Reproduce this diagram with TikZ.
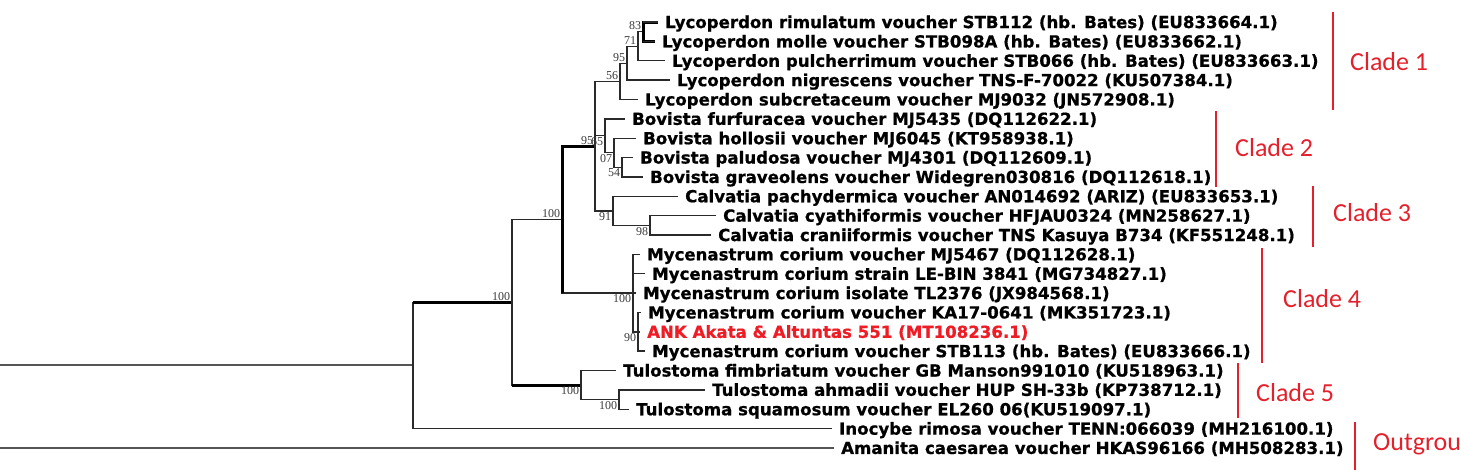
\documentclass[tikz,border=0pt]{standalone}
\usepackage{fontspec}
\setmainfont{DejaVu Sans}[BoldFeatures={FakeBold=0.8}]
\newfontfamily\bsfont{Liberation Serif}
\newfontfamily\cladefont{Carlito}
\definecolor{branch}{HTML}{2A2A2A}
\definecolor{rootgray}{HTML}{555555}
\definecolor{cladered}{HTML}{E3202B}
\definecolor{ankred}{HTML}{EE1C25}
\definecolor{bsgray}{HTML}{3A3A3A}
\tikzset{
  taxon/.style={anchor=west, inner xsep=7pt, inner ysep=0pt, text height=12.1pt, text depth=0pt,
    font=\bfseries\fontsize{16.6}{18}\selectfont, text=black},
  br/.style={draw=branch, line width=1.4pt},
  rootbr/.style={draw=rootgray, line width=2pt},
  thickbr/.style={draw=black, line width=3pt},
  bs/.style={font=\bsfont\fontsize{12}{13}\selectfont, text=bsgray, inner sep=0.6pt},
  bsabove/.style={bs, anchor=south east},
  bsbelow/.style={bs, anchor=north east},
  cladebar/.style={draw=cladered, line width=2.6pt},
  cladelbl/.style={anchor=west, text=cladered, font=\cladefont\fontsize{26}{28}\selectfont,
    inner sep=0pt, text height=16.5pt, text depth=0pt}
}
\begin{document}
\begin{tikzpicture}[x=1pt,y=-1pt]
\useasboundingbox (0,0) rectangle (1460,469);
% ---- taxa
\node[taxon] (t1) at (658,22.0) {Lycoperdon rimulatum voucher STB112 (hb. Bates) (EU833664.1)};
\node[taxon] (t2) at (655,41.4) {Lycoperdon molle voucher STB098A (hb. Bates) (EU833662.1)};
\node[taxon] (t3) at (665,60.7) {Lycoperdon pulcherrimum voucher STB066 (hb. Bates) (EU833663.1)};
\node[taxon] (t4) at (670,80.1) {Lycoperdon nigrescens voucher TNS-F-70022 (KU507384.1)};
\node[taxon] (t5) at (638,99.4) {Lycoperdon subcretaceum voucher MJ9032 (JN572908.1)};
\node[taxon] (t6) at (625,118.8) {Bovista furfuracea voucher MJ5435 (DQ112622.1)};
\node[taxon] (t7) at (636,138.2) {Bovista hollosii voucher MJ6045 (KT958938.1)};
\node[taxon] (t8) at (633,157.5) {Bovista paludosa voucher MJ4301 (DQ112609.1)};
\node[taxon] (t9) at (643,176.9) {Bovista graveolens voucher Widegren030816 (DQ112618.1)};
\node[taxon] (t10) at (678,196.2) {Calvatia pachydermica voucher AN014692 (ARIZ) (EU833653.1)};
\node[taxon] (t11) at (716,215.6) {Calvatia cyathiformis voucher HFJAU0324 (MN258627.1)};
\node[taxon] (t12) at (711,235.0) {Calvatia craniiformis voucher TNS Kasuya B734 (KF551248.1)};
\node[taxon] (t13) at (640,254.3) {Mycenastrum corium voucher MJ5467 (DQ112628.1)};
\node[taxon] (t14) at (645,273.7) {Mycenastrum corium strain LE-BIN 3841 (MG734827.1)};
\node[taxon] (t15) at (636,293.0) {Mycenastrum corium isolate TL2376 (JX984568.1)};
\node[taxon] (t16) at (641,312.4) {Mycenastrum corium voucher KA17-0641 (MK351723.1)};
\node[taxon,text=ankred] (t17) at (640,331.8) {ANK Akata \& Altuntas 551 (MT108236.1)};
\node[taxon] (t18) at (645,351.1) {Mycenastrum corium voucher STB113 (hb. Bates) (EU833666.1)};
\node[taxon] (t19) at (616,370.5) {Tulostoma fimbriatum voucher GB Manson991010 (KU518963.1)};
\node[taxon] (t20) at (705,389.8) {Tulostoma ahmadii voucher HUP SH-33b (KP738712.1)};
\node[taxon] (t21) at (629,409.2) {Tulostoma squamosum voucher EL260 06(KU519097.1)};
\node[taxon] (t22) at (832,428.6) {Inocybe rimosa voucher TENN:066039 (MH216100.1)};
\node[taxon] (t23) at (834,447.9) {Amanita caesarea voucher HKAS96166 (MH508283.1)};
% ---- internal nodes
\coordinate (R) at (-8,406.7);
\coordinate (Z) at (413,365.4);
\coordinate (Y) at (512,302.3);
\coordinate (X) at (562,219.5);
\coordinate (A) at (595,146);
\coordinate (L1) at (620,81.3);
\coordinate (L2) at (627,63.2);
\coordinate (L3) at (638,46.2);
\coordinate (L4) at (643,31.7);
\coordinate (B1) at (605,135.7);
\coordinate (B2) at (614,152.7);
\coordinate (B3) at (622,167.2);
\coordinate (C1) at (613,210.8);
\coordinate (C2) at (650,225.3);
\coordinate (M1) at (633,293);
\coordinate (M2) at (638,331.8);
\coordinate (T1) at (581,385);
\coordinate (T2) at (619,399.5);
% ---- branches
\draw[rootbr] (R) |- (Z);
\draw[rootbr] (R) |- (t23.west);
\draw[br] (Z) |- (Y);
\draw[thickbr] (Z |- Y) -- (Y);
\draw[br] (Z) |- (t22.west);
\draw[br] (Y) |- (X);
\draw[br] (Y) |- (T1);
\draw[thickbr] (Y |- T1) -- (T1);
\draw[thickbr] (X) |- (A);
\draw[br] (X) |- (M1);
\draw[thickbr] (X) -- (X |- M1);
% Lycoperdon
\draw[br] (A) |- (L1);
\draw[br] (L1) |- (L2);
\draw[br] (L1) |- (t5.west);
\draw[br] (L2) |- (L3);
\draw[br] (L2) |- (t4.west);
\draw[br] (L3) |- (L4);
\draw[br] (L3) |- (t3.west);
\draw[thickbr] (L4) |- (t1.west);
\draw[thickbr] (L4) |- (t2.west);
\draw[br] (L4 |- t1.west) -- (t1.west);
\draw[br] (L4 |- t2.west) -- (t2.west);
% Bovista
\draw[br] (A) |- (B1);
\draw[br] (B1) |- (t6.west);
\draw[br] (B1) |- (B2);
\draw[br] (B2) |- (t7.west);
\draw[br] (B2) |- (B3);
\draw[br] (B3) |- (t8.west);
\draw[br] (B3) |- (t9.west);
% Calvatia
\draw[br] (A) |- (C1);
\draw[br] (C1) |- (t10.west);
\draw[br] (C1) |- (C2);
\draw[br] (C2) |- (t11.west);
\draw[br] (C2) |- (t12.west);
% Mycenastrum
\draw[br] (M1) |- (t13.west);
\draw[br] (M1) |- (t14.west);
\draw[br] (M1) |- (t15.west);
\draw[br] (M1) |- (M2);
\draw[br] (M2) |- (t16.west);
\draw[br] (M2) |- (t17.west);
\draw[br] (M2) |- (t18.west);
% Tulostoma
\draw[br] (T1) |- (t19.west);
\draw[br] (T1) |- (T2);
\draw[br] (T2) |- (t20.west);
\draw[br] (T2) |- (t21.west);
% ---- bootstrap values
\node[bsabove] (bL4) at ([xshift=-1pt,yshift=1pt]L4) {83};
\node[bsabove] (bL3) at ([xshift=-1pt,yshift=1pt]L3) {71};
\node[bsabove] (bL2) at ([xshift=-1pt,yshift=1pt]L2) {95};
\node[bsabove] (bL1) at ([xshift=-1pt,yshift=1pt]L1) {56};
\node[bsabove] (bA) at ([xshift=-1pt,yshift=1pt]A) {95};
\node[bsbelow] (bB1) at ([xshift=-1pt,yshift=-1pt]B1) {65};
\node[bsbelow] (bB2) at ([xshift=-1pt,yshift=-1pt]B2) {07};
\node[bsbelow] (bB3) at ([xshift=-1pt,yshift=-1pt]B3) {54};
\node[bsbelow] (bC1) at ([xshift=-1pt,yshift=-1pt]C1) {91};
\node[bsbelow] (bC2) at ([xshift=-1pt,yshift=-1pt]C2) {98};
\node[bsabove] (bX) at ([xshift=-1pt,yshift=1pt]X) {100};
\node[bsabove] (bY) at ([xshift=-1pt,yshift=1pt]Y) {100};
\node[bsbelow] (bM1) at ([xshift=-1pt,yshift=-1pt]M1) {100};
\node[bsbelow] (bM2) at ([xshift=-1pt,yshift=-1pt]M2) {90};
\node[bsbelow] (bT1) at ([xshift=-1pt,yshift=-1pt]T1) {100};
\node[bsbelow] (bT2) at ([xshift=-1pt,yshift=-1pt]T2) {100};
% ---- clade bars
\coordinate (c1t) at (1333,12);  \coordinate (c1b) at (1333,110);
\coordinate (c2t) at (1216,111); \coordinate (c2b) at (1216,187);
\coordinate (c3t) at (1313,186); \coordinate (c3b) at (1313,247);
\coordinate (c4t) at (1262,248); \coordinate (c4b) at (1262,363);
\coordinate (c5t) at (1238,363); \coordinate (c5b) at (1238,418);
\coordinate (c6t) at (1355,422); \coordinate (c6b) at (1355,472);
\draw[cladebar] (c1t) -- (c1b);
\draw[cladebar] (c2t) -- (c2b);
\draw[cladebar] (c3t) -- (c3b);
\draw[cladebar] (c4t) -- (c4b);
\draw[cladebar] (c5t) -- (c5b);
\draw[cladebar] (c6t) -- (c6b);
\node[cladelbl] (k1) at (1350,62) {Clade 1};
\node[cladelbl] (k2) at (1235,148) {Clade 2};
\node[cladelbl] (k3) at (1333,213) {Clade 3};
\node[cladelbl] (k4) at (1283,299) {Clade 4};
\node[cladelbl] (k5) at (1256,393) {Clade 5};
\node[cladelbl] (k6) at (1373,442) {Outgroup};
\end{tikzpicture}
\end{document}
